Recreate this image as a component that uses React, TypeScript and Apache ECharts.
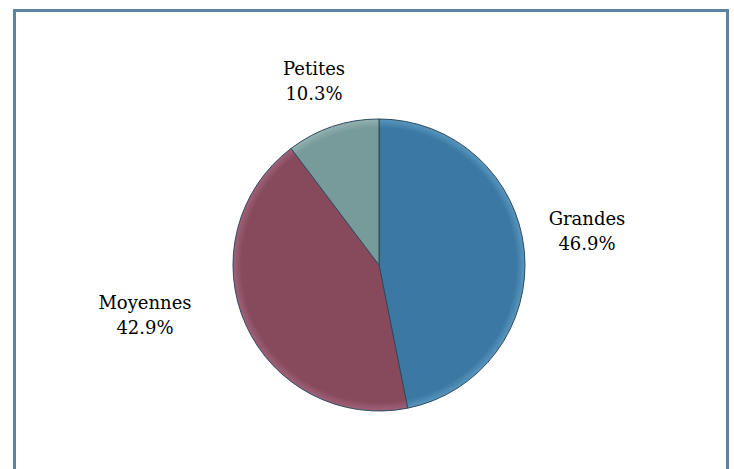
import React, { useEffect, useRef } from "react";
import * as echarts from "echarts";

const categories = ["Grandes", "Moyennes", "Petites"];
const values = [46.9, 42.9, 10.3];
const colors = ["#3b79a2", "#864a5c", "#779a9a"];
const edgeColors = ["#5a97c0", "#a0627a", "#93b2b2"];

const labelCenters: Record<string, [number, number]> = {
  Grandes: [587, 231],
  Moyennes: [145, 315],
  Petites: [314, 81],
};

const CX = 379;
const CY = 265;
const R = 146;
const FONT = "DejaVu Serif";

export default function App() {
  const ref = useRef<HTMLDivElement>(null);
  useEffect(() => {
    if (!ref.current) return;
    const chart = echarts.init(ref.current, undefined, { renderer: "svg" });
    const data = categories.map((name, i) => ({
      name,
      value: values[i],
      itemStyle: {
        color: {
          type: "radial",
          x: CX,
          y: CY,
          r: R,
          global: true,
          colorStops: [
            { offset: 0, color: colors[i] },
            { offset: 0.94, color: colors[i] },
            { offset: 1, color: edgeColors[i] },
          ],
        },
      },
    }));
    chart.setOption({
      animation: false,
      backgroundColor: "#ffffff",
      textStyle: { fontFamily: FONT },
      graphic: [
        {
          type: "rect",
          shape: { x: 14.5, y: 10.5, width: 713, height: 470 },
          style: { fill: "none", stroke: "#5b84a4", lineWidth: 3 },
          z: 100,
        },
      ],
      series: [
        {
          type: "pie",
          center: [CX, CY],
          radius: R,
          startAngle: 90,
          clockwise: true,
          data,
          itemStyle: { borderColor: "#2f4a5c", borderWidth: 1 },
          label: {
            show: true,
            position: "outside",
            formatter: (p: any) => `${p.name}\n${p.value.toFixed(1)}%`,
            fontFamily: FONT,
            fontSize: 18,
            lineHeight: 25,
            color: "#000000",
            align: "center",
          },
          labelLine: { show: false },
          labelLayout: (p: any) => {
            const name = categories[p.dataIndex];
            const c = labelCenters[name];
            return { x: c[0], y: c[1], align: "center", verticalAlign: "middle" };
          },
          emphasis: { disabled: true },
        },
      ],
    });
    return () => chart.dispose();
  }, []);
  return (
    <div
      ref={ref}
      style={{ position: "fixed", left: 0, top: 0, width: 734, height: 469 }}
    />
  );
}
